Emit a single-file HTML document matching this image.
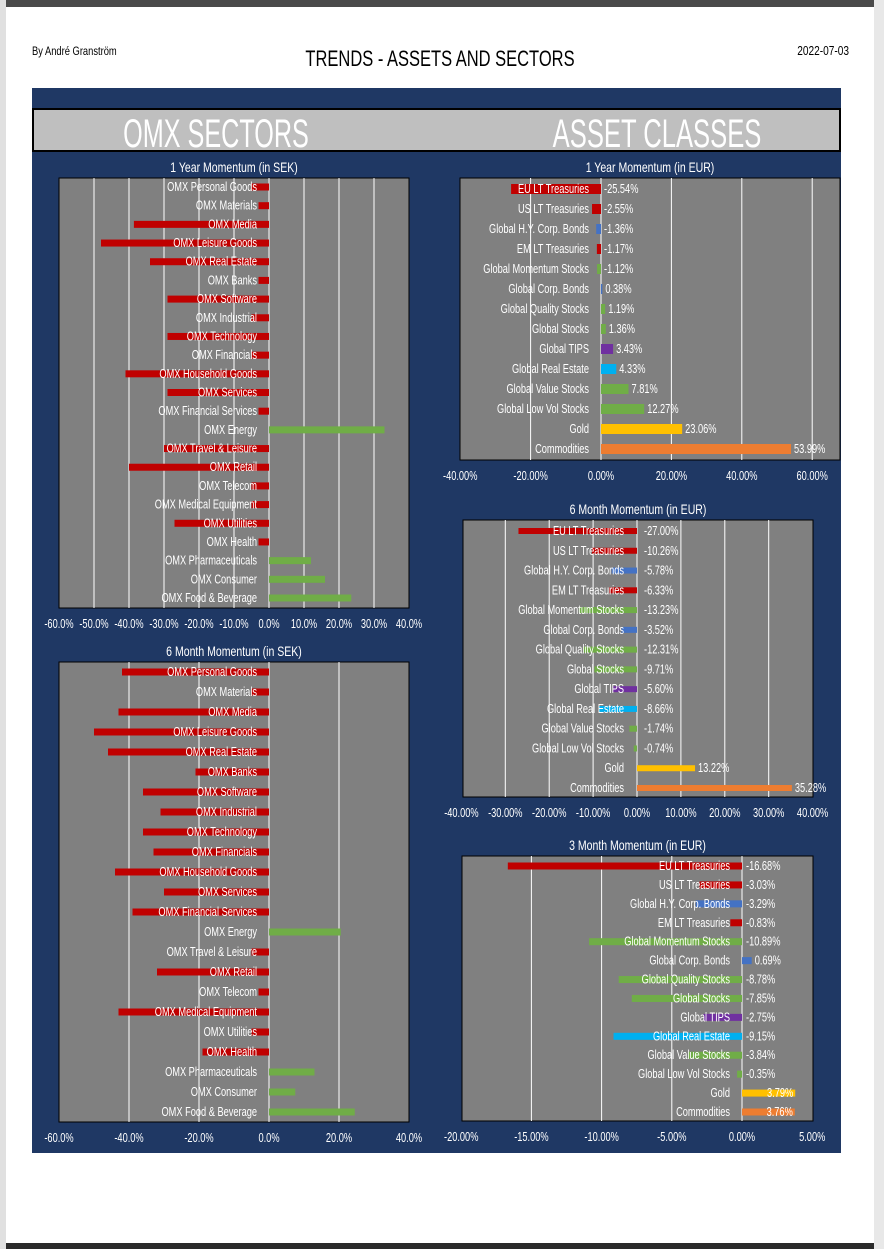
<!DOCTYPE html>
<html><head><meta charset="utf-8">
<style>
html,body{margin:0;padding:0;background:#fff;}
svg{display:block;}
text{font-family:"Liberation Sans",sans-serif;}
</style></head>
<body>
<svg id="s" width="884" height="1249" xmlns="http://www.w3.org/2000/svg">
<rect x="0" y="0" width="884" height="1249" fill="#fff"/>
<rect x="0" y="0" width="884" height="7" fill="#4a4a4a"/>
<rect x="0" y="1243" width="884" height="6" fill="#2a2a2a"/>
<rect x="0" y="0" width="6" height="1249" fill="#e0e0e0"/>
<rect x="874" y="0" width="10" height="1249" fill="#e8e8e8"/>
<rect x="32" y="88" width="809" height="1065" fill="#1f3864"/>
<rect x="33" y="109" width="807" height="42" fill="#bfbfbf" stroke="#000" stroke-width="2"/>
<line x1="440" y1="110" x2="440" y2="150" stroke="#bfbfbf" stroke-width="2"/>
<g id="g"></g>
</svg>
<script>
var g=document.getElementById('g'),NS='http://www.w3.org/2000/svg';
function el(t,a,txt){var e=document.createElementNS(NS,t);for(var k in a)e.setAttribute(k,a[k]);if(txt!==undefined)e.textContent=txt;g.appendChild(e);return e;}
function tx(x,y,s,fill,anchor,txt,sc){sc=sc||0.78;return el('text',{x:0,y:0,transform:'translate('+x+','+y+') scale('+sc+',1)','font-size':s,fill:fill,'text-anchor':anchor||'start'},txt);}
tx(32,55,12,'#000','start','By André Granström');
tx(440,66,22,'#000','middle','TRENDS - ASSETS AND SECTORS',0.75);
tx(849,55,13,'#000','end','2022-07-03');
tx(216,147,40,'#fff','middle','OMX SECTORS',0.63);
tx(657,147,40,'#fff','middle','ASSET CLASSES',0.64);
function chart(o){
 tx((o.bx0+o.bx1)/2,o.by0-6,13.5,'#fff','middle',o.title);
 el('rect',{x:o.bx0,y:o.by0,width:o.bx1-o.bx0,height:o.by1-o.by0,fill:'#808080',stroke:'#000','stroke-width':1});
 var sx=function(v){return o.z+v*o.k;};
 o.ticks.forEach(function(t){var x=sx(t);if(x>o.bx0+1&&x<o.bx1-1)el('line',{x1:x,y1:o.by0,x2:x,y2:o.by1,stroke:'#fff','stroke-width':1});
  tx(x,o.by1+20,12.5,'#fff','middle',t.toFixed(o.dec)+'%',0.74);});
 var n=o.data.length;
 o.data.forEach(function(d,i){var y=o.r0+i*(o.r1-o.r0)/(n-1);var v=d[1],x=sx(v);
  el('rect',{x:Math.min(x,o.z),y:y-o.bh/2,width:Math.abs(x-o.z),height:o.bh,fill:d[2]||'#c00000'});
  tx(o.lx,y+4,12.5,'#fff','end',d[0],0.74);
  if(o.val){var vx=v>0?x+3:o.z+o.vo;if(v>0&&o.valEnd&&x>o.bx1-40){tx(x-2,y+4,12.5,'#fff','end',v.toFixed(2)+'%',0.74);}else tx(vx,y+4,12.5,'#fff','start',v.toFixed(2)+'%',0.74);}
 });
}
var R='#c00000',B='#4472c4',G='#70ad47',P='#7030a0',C='#00b0f0',Y='#ffc000',O='#ed7d31';
chart({title:'1 Year Momentum (in SEK)',bx0:59,bx1:409,by0:178,by1:608,z:269,k:3.5,ticks:[-60,-50,-40,-30,-20,-10,0,10,20,30,40],dec:1,r0:187,r1:598,bh:7,lx:257,
data:[['OMX Personal Goods',-5],['OMX Materials',-3],['OMX Media',-38.6],['OMX Leisure Goods',-48],['OMX Real Estate',-34],['OMX Banks',-3],['OMX Software',-29],['OMX Industrial',-5],['OMX Technology',-29],['OMX Financials',-5],['OMX Household Goods',-41],['OMX Services',-29],['OMX Financial Services',-3],['OMX Energy',33,G],['OMX Travel & Leisure',-30],['OMX Retail',-40],['OMX Telecom',-5],['OMX Medical Equipment',-5],['OMX Utilities',-27],['OMX Health',-3],['OMX Pharmaceuticals',12,G],['OMX Consumer',16,G],['OMX Food & Beverage',23.5,G]]});
chart({title:'6 Month Momentum (in SEK)',bx0:59,bx1:409,by0:662,by1:1122,z:269,k:3.5,ticks:[-60,-40,-20,0,20,40],dec:1,r0:672,r1:1112,bh:7,lx:257,
data:[['OMX Personal Goods',-42],['OMX Materials',-5],['OMX Media',-43],['OMX Leisure Goods',-50],['OMX Real Estate',-46],['OMX Banks',-21],['OMX Software',-36],['OMX Industrial',-31],['OMX Technology',-36],['OMX Financials',-33],['OMX Household Goods',-44],['OMX Services',-30],['OMX Financial Services',-39],['OMX Energy',20.5,G],['OMX Travel & Leisure',-5],['OMX Retail',-32],['OMX Telecom',-3],['OMX Medical Equipment',-43],['OMX Utilities',-5],['OMX Health',-19],['OMX Pharmaceuticals',13,G],['OMX Consumer',7.5,G],['OMX Food & Beverage',24.5,G]]});
var names=['EU LT Treasuries','US LT Treasuries','Global H.Y. Corp. Bonds','EM LT Treasuries','Global Momentum Stocks','Global Corp. Bonds','Global Quality Stocks','Global Stocks','Global TIPS','Global Real Estate','Global Value Stocks','Global Low Vol Stocks','Gold','Commodities'];
var cols=[R,R,B,R,G,B,G,G,P,C,G,G,Y,O];
function mk(v){return names.map(function(n,i){return [n,v[i],cols[i]];});}
chart({title:'1 Year Momentum (in EUR)',bx0:460,bx1:840,by0:178,by1:460,z:601,k:3.52,ticks:[-40,-20,0,20,40,60],dec:2,r0:189,r1:449,bh:10,lx:589,val:true,vo:3,valEnd:true,
data:mk([-25.54,-2.55,-1.36,-1.17,-1.12,0.38,1.19,1.36,3.43,4.33,7.81,12.27,23.06,53.99])});
chart({title:'6 Month Momentum (in EUR)',bx0:463,bx1:813,by0:520,by1:797,z:637,k:4.39,ticks:[-40,-30,-20,-10,0,10,20,30,40],dec:2,r0:531,r1:788,bh:6,lx:624,val:true,vo:7,
data:mk([-27,-10.26,-5.78,-6.33,-13.23,-3.52,-12.31,-9.71,-5.60,-8.66,-1.74,-0.74,13.22,35.28])});
chart({title:'3 Month Momentum (in EUR)',bx0:462,bx1:813,by0:856,by1:1121,z:742,k:14.04,ticks:[-20,-15,-10,-5,0,5],dec:2,r0:866,r1:1112,bh:7,lx:730,val:true,vo:4,valEnd:true,
data:mk([-16.68,-3.03,-3.29,-0.83,-10.89,0.69,-8.78,-7.85,-2.75,-9.15,-3.84,-0.35,3.79,3.76])});
</script>
</body></html>
